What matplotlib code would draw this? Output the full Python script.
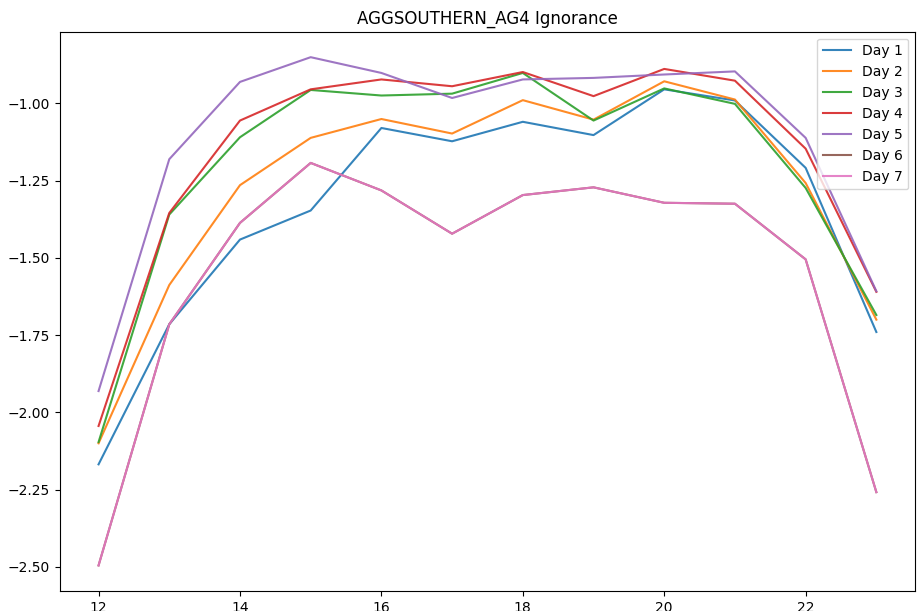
import matplotlib
matplotlib.use('Agg')
import matplotlib.pyplot as plt

hours = [12, 13, 14, 15, 16, 17, 18, 19, 20, 21, 22, 23]

day1 = [-2.168, -1.715, -1.441, -1.347, -1.080, -1.123, -1.060, -1.103, -0.955, -0.991, -1.209, -1.740]
day2 = [-2.100, -1.588, -1.265, -1.112, -1.051, -1.098, -0.990, -1.053, -0.929, -0.988, -1.258, -1.700]
day3 = [-2.096, -1.360, -1.110, -0.957, -0.975, -0.969, -0.902, -1.056, -0.952, -1.002, -1.274, -1.685]
day4 = [-2.044, -1.355, -1.056, -0.955, -0.923, -0.945, -0.899, -0.977, -0.889, -0.927, -1.147, -1.610]
day5 = [-1.931, -1.181, -0.931, -0.851, -0.902, -0.983, -0.923, -0.918, -0.907, -0.897, -1.112, -1.608]
day6 = [-2.495, -1.715, -1.387, -1.193, -1.282, -1.422, -1.297, -1.272, -1.322, -1.325, -1.505, -2.258]
day7 = [-2.495, -1.715, -1.387, -1.193, -1.282, -1.422, -1.297, -1.272, -1.322, -1.325, -1.505, -2.258]

days = [day1, day2, day3, day4, day5, day6, day7]
labels = ['Day 1', 'Day 2', 'Day 3', 'Day 4', 'Day 5', 'Day 6', 'Day 7']

fig, ax = plt.subplots(figsize=(9.18, 6.11), dpi=100)
fig.subplots_adjust(left=0.065, right=0.997, top=0.948, bottom=0.033)

for vals, lab in zip(days, labels):
    ax.plot(hours, vals, label=lab, alpha=0.9)

ax.set_yticks([-2.5, -2.25, -2.0, -1.75, -1.5, -1.25, -1.0])
ax.set_title('AGGSOUTHERN_AG4 Ignorance')
ax.legend(loc='upper right')

fig.savefig('out.png', dpi=100)
